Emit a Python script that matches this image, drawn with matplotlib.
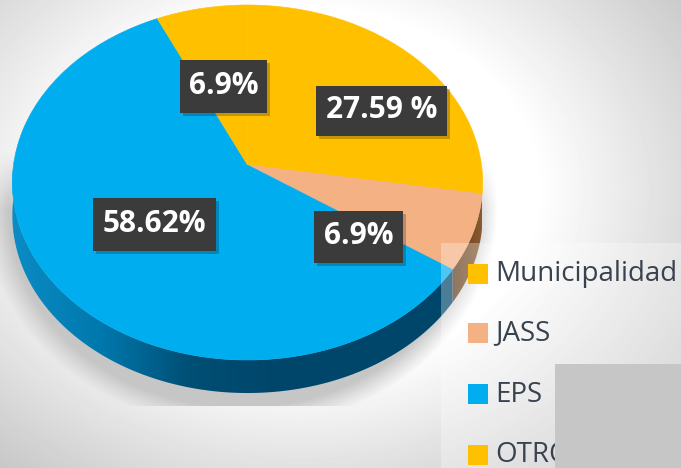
import numpy as np
import matplotlib
matplotlib.use("Agg")
import matplotlib.pyplot as plt
from matplotlib.patches import Rectangle, Polygon
from matplotlib.transforms import Transform
from matplotlib.colors import LinearSegmentedColormap

categories = ["Municipalidad", "JASS", "EPS", "OTRO"]
values = [27.59, 6.9, 58.62, 6.9]
colors = ["#FFC000", "#F4B183", "#00AEEF", "#FFC000"]
label_texts = ["27.59 %", "6.9%", "58.62%", "6.9%"]

W, H = 681, 468
APEX = (247.5, 165.0)
RX, RY, K = 234.0, 175.8, 0.0986
DEPTH = 33.0


class Tilt(Transform):
    """Unit-circle pie seen in perspective, output in pixel coordinates."""
    input_dims = output_dims = 2
    is_separable = False
    has_inverse = False

    def __init__(self, drop=0.0):
        super().__init__()
        self.drop = drop

    def transform_non_affine(self, xy):
        xy = np.asarray(xy, float)
        s = 1 + K * xy[:, 1]
        return np.column_stack([APEX[0] + RX * xy[:, 0] / s,
                                APEX[1] - RY * xy[:, 1] / s + self.drop])


fig = plt.figure(figsize=(W / 100, H / 100), dpi=100)
ax = fig.add_axes([0, 0, 1, 1])

# backdrop: vignette plus soft shadow below the pie
yy, xx = np.mgrid[0:H, 0:W]
r = np.hypot((xx - 300) / 430, (yy - 190) / 330)
bg = 255 - 62 * np.clip(r - 0.55, 0, 1) / 0.6
d = np.hypot((xx - 240) / 250, (yy - 207) / 215)
sh = np.clip((1.03 - d) / 0.1, 0, 1) * (yy < 406) * np.clip((yy - 150) / 60, 0, 1)
bg = bg * (1 - sh) + 198 * sh
ax.imshow(bg, cmap="gray", vmin=0, vmax=255, extent=(0, W, H, 0), aspect="auto", zorder=0)

# pie top face
wedges, _ = ax.pie(values, colors=colors, startangle=90, counterclock=False)
tilt = Tilt()
for w, col in zip(wedges, colors):
    w.set_transform(tilt + ax.transData)
    w.set_zorder(3)
    w.set_edgecolor(col)
    w.set_linewidth(0.4)

# pie side walls
bounds = 90 - np.cumsum([0] + values) / np.sum(values) * 360
side_maps = {
    1: ["#8a5a30", "#5e3a1c"],
    2: ["#0a8cc4", "#0078ad", "#004f75", "#00466a", "#00466a", "#00466a"],
}
lo_limit = {1: bounds[2], 2: -180.0}
for i, stops in side_maps.items():
    th = np.radians(np.linspace(bounds[i], lo_limit[i], 120))
    arc = np.column_stack([np.cos(th), np.sin(th)])
    top = Tilt().transform_non_affine(arc)
    low = Tilt(DEPTH).transform_non_affine(arc)
    poly = Polygon(np.vstack([top, low[::-1]]), closed=True, transform=ax.transData,
                   facecolor="none", edgecolor="none")
    ax.add_patch(poly)
    cm = LinearSegmentedColormap.from_list("side", stops)
    x0, x1 = poly.get_xy()[:, 0].min(), poly.get_xy()[:, 0].max()
    grad = np.linspace(0, 1, 256).reshape(1, -1)
    if i == 1:
        grad = grad[:, ::-1]
    im = ax.imshow(grad, cmap=cm, extent=(x0, x1, H, 0), aspect="auto", zorder=2)
    im.set_clip_path(poly)

# value labels
boxes = [(316, 86, 131, 50), (314, 211, 89, 52), (93, 198, 123, 53), (180, 60, 87, 53)]
for txt, (bx, by, bw, bh) in zip(label_texts, boxes):
    ax.add_patch(Rectangle((bx + 3, by + 3), bw, bh, fc="#000000", alpha=0.22, ec="none", zorder=4))
    ax.add_patch(Rectangle((bx, by), bw, bh, fc="#3B3B3B", ec="none", zorder=5))
    ax.text(bx + bw / 2, by + bh / 2 - 1, txt, color="white", ha="center", va="center",
            family="Open Sans", weight="bold", fontsize=21.5, zorder=6)

# legend panel and entries
ax.add_patch(Rectangle((441, 243), W - 441, H - 243, fc="white", alpha=0.3, ec="none", zorder=7))
legend_y = [274, 333, 394, 455]
for name, col, ly in zip(categories, colors, legend_y):
    ax.add_patch(Rectangle((468, ly - 10), 20, 20, fc=col, ec="none", zorder=8))
    ax.text(495, ly + 0.5, name, color="#39424F", ha="left", va="center",
            family="Open Sans", fontsize=20, zorder=8)
ax.add_patch(Rectangle((555, 364), W - 555, H - 364, fc="#C6C6C6", ec="none", zorder=9))

ax.set_xlim(0, W)
ax.set_ylim(H, 0)
ax.set_aspect("auto")
ax.axis("off")
fig.savefig("out.png", dpi=100)
